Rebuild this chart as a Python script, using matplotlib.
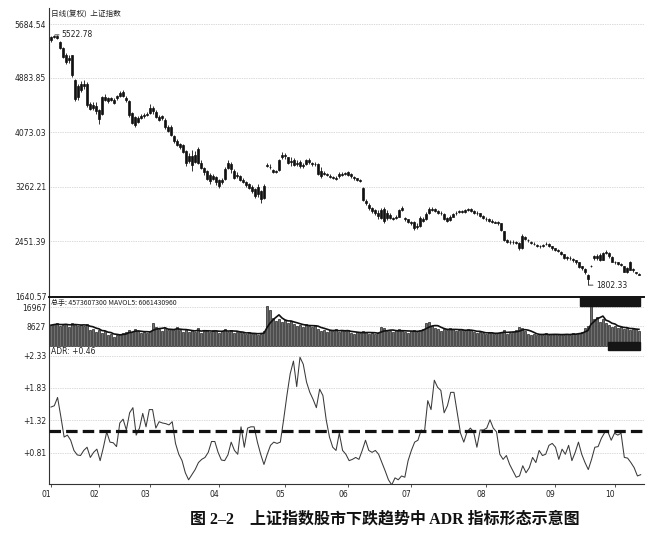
import numpy as np
import pandas as pd
import matplotlib
matplotlib.use('Agg')
import matplotlib.pyplot as plt
from matplotlib.patches import Rectangle

# ---------------- data ----------------
open_ = [5440, 5490, 5510, 5420, 5330, 5220, 5150, 5220, 4850, 4600,
         4700, 4800, 4800, 4500, 4440, 4470, 4400, 4340, 4560, 4580,
         4560, 4560, 4580, 4620, 4620, 4590, 4540, 4360, 4300, 4230,
         4290, 4310, 4330, 4360, 4430, 4380, 4300, 4280, 4260, 4160,
         4160, 4020, 3950, 3900, 3880, 3800, 3650, 3720, 3640, 3820,
         3620, 3540, 3500, 3440, 3380, 3410, 3360, 3330, 3380, 3550,
         3600, 3500, 3420, 3420, 3370, 3340, 3300, 3260, 3230, 3160,
         3200, 3100, 3580, 3560, 3510, 3490, 3520, 3700, 3740, 3700,
         3630, 3660, 3600, 3640, 3570, 3610, 3660, 3620, 3600, 3600,
         3500, 3460, 3450, 3430, 3410, 3400, 3420, 3440, 3460, 3480,
         3450, 3410, 3390, 3370, 3250, 3060, 3000, 2950, 2920, 2880,
         2800, 2940, 2800, 2850, 2800, 2800, 2820, 2920, 2800, 2780,
         2740, 2740, 2660, 2680, 2790, 2790, 2880, 2920, 2930, 2900,
         2880, 2860, 2800, 2770, 2820, 2870, 2890, 2900, 2890, 2920,
         2930, 2900, 2880, 2870, 2830, 2790, 2780, 2760, 2730, 2740,
         2720, 2600, 2470, 2450, 2440, 2450, 2430, 2360, 2520, 2480,
         2440, 2420, 2400, 2390, 2380, 2410, 2420, 2380, 2350, 2330,
         2300, 2260, 2220, 2200, 2190, 2170, 2140, 2080, 2040, 1960,
         2080, 2200, 2240, 2250, 2180, 2280, 2280, 2220, 2150, 2140,
         2120, 2080, 2000, 2030, 2040, 1990, 1970]
close = [5490, 5510, 5480, 5330, 5200, 5120, 5180, 4930, 4570, 4760,
         4790, 4760, 4480, 4420, 4480, 4390, 4270, 4600, 4600, 4540,
         4580, 4510, 4610, 4660, 4680, 4550, 4330, 4220, 4190, 4290,
         4310, 4330, 4350, 4430, 4390, 4300, 4260, 4310, 4150, 4100,
         4040, 3940, 3890, 3860, 3780, 3620, 3720, 3590, 3740, 3620,
         3550, 3480, 3380, 3350, 3420, 3330, 3280, 3370, 3530, 3620,
         3530, 3400, 3440, 3370, 3340, 3290, 3250, 3200, 3130, 3260,
         3080, 3270, 3590, 3560, 3490, 3500, 3660, 3740, 3720, 3620,
         3650, 3590, 3620, 3570, 3590, 3660, 3630, 3600, 3610, 3460,
         3420, 3470, 3440, 3410, 3400, 3380, 3450, 3460, 3470, 3440,
         3420, 3390, 3370, 3350, 3070, 3020, 2950, 2910, 2870, 2830,
         2920, 2760, 2880, 2800, 2790, 2820, 2920, 2950, 2780, 2740,
         2720, 2650, 2680, 2800, 2760, 2860, 2930, 2940, 2910, 2880,
         2870, 2790, 2760, 2820, 2860, 2880, 2910, 2890, 2920, 2940,
         2910, 2880, 2870, 2830, 2800, 2780, 2760, 2740, 2740, 2720,
         2620, 2470, 2450, 2440, 2450, 2430, 2350, 2530, 2490, 2470,
         2430, 2410, 2390, 2380, 2400, 2420, 2390, 2350, 2330, 2310,
         2270, 2210, 2200, 2210, 2170, 2140, 2070, 2050, 1990, 1900,
         2090, 2230, 2200, 2180, 2280, 2290, 2230, 2150, 2140, 2110,
         2100, 2000, 2050, 2140, 2020, 1980, 1960]
high = [5500, 5522.78, 5520, 5430, 5340, 5250, 5220, 5230, 4860, 4800,
        4830, 4850, 4820, 4530, 4520, 4520, 4420, 4620, 4640, 4600,
        4600, 4580, 4630, 4690, 4700, 4610, 4550, 4380, 4310, 4320,
        4340, 4360, 4370, 4490, 4470, 4400, 4330, 4330, 4280, 4180,
        4180, 4040, 3970, 3920, 3900, 3810, 3760, 3810, 3790, 3850,
        3660, 3560, 3510, 3470, 3450, 3430, 3380, 3400, 3560, 3660,
        3640, 3530, 3480, 3440, 3390, 3350, 3320, 3290, 3250, 3300,
        3220, 3300, 3620, 3600, 3530, 3520, 3680, 3780, 3770, 3710,
        3700, 3690, 3660, 3660, 3620, 3680, 3690, 3640, 3630, 3620,
        3560, 3500, 3470, 3450, 3420, 3420, 3480, 3480, 3490, 3500,
        3470, 3430, 3400, 3380, 3260, 3080, 3020, 2970, 2940, 2920,
        2950, 2960, 2920, 2870, 2820, 2840, 2940, 2980, 2820, 2790,
        2760, 2760, 2720, 2830, 2820, 2890, 2960, 2960, 2950, 2920,
        2900, 2870, 2820, 2840, 2880, 2900, 2920, 2920, 2940, 2950,
        2950, 2920, 2900, 2880, 2850, 2810, 2800, 2780, 2760, 2760,
        2730, 2610, 2490, 2470, 2470, 2460, 2440, 2560, 2540, 2490,
        2460, 2440, 2420, 2400, 2420, 2440, 2430, 2390, 2360, 2340,
        2310, 2270, 2230, 2230, 2200, 2180, 2150, 2090, 2050, 1970,
        2100, 2250, 2270, 2280, 2300, 2330, 2290, 2230, 2160, 2150,
        2130, 2090, 2070, 2160, 2060, 2000, 1980]
low = [5420, 5480, 5460, 5310, 5180, 5090, 5110, 4900, 4540, 4560,
       4680, 4720, 4450, 4400, 4410, 4350, 4200, 4330, 4540, 4510,
       4540, 4490, 4560, 4600, 4600, 4530, 4300, 4200, 4150, 4210,
       4270, 4290, 4310, 4340, 4350, 4280, 4240, 4260, 4130, 4080,
       4020, 3920, 3870, 3830, 3760, 3580, 3620, 3500, 3620, 3600,
       3530, 3440, 3360, 3310, 3360, 3290, 3240, 3300, 3360, 3530,
       3470, 3380, 3400, 3350, 3320, 3260, 3230, 3170, 3100, 3110,
       3020, 3080, 3560, 3530, 3470, 3470, 3500, 3680, 3680, 3600,
       3580, 3570, 3580, 3540, 3550, 3590, 3610, 3580, 3580, 3440,
       3400, 3440, 3420, 3390, 3380, 3360, 3400, 3420, 3440, 3420,
       3400, 3370, 3350, 3330, 3050, 3000, 2920, 2880, 2850, 2780,
       2780, 2730, 2770, 2780, 2770, 2780, 2810, 2900, 2750, 2720,
       2690, 2620, 2640, 2660, 2740, 2770, 2860, 2900, 2890, 2860,
       2850, 2770, 2740, 2750, 2810, 2850, 2880, 2880, 2880, 2910,
       2890, 2860, 2850, 2810, 2790, 2760, 2740, 2720, 2720, 2700,
       2600, 2460, 2430, 2420, 2420, 2410, 2330, 2340, 2470, 2450,
       2410, 2400, 2370, 2360, 2370, 2400, 2370, 2330, 2310, 2290,
       2250, 2190, 2180, 2180, 2150, 2120, 2050, 2030, 1970, 1802.33,
       2070, 2180, 2180, 2160, 2170, 2260, 2210, 2140, 2120, 2100,
       2080, 1990, 1980, 2020, 2000, 1970, 1950]
volume = [9000, 9500, 9800, 8800, 9200, 9600, 8400, 9900, 9300, 8600, 9100, 8700, 9400,
          6900, 7400, 6200, 7000, 5600, 6300,
          4600, 5200, 3900, 4800, 5100,
          5600, 6200, 6800, 5900, 7100, 6400, 5400, 6000, 5700, 6600,
          9900, 8000,
          7200, 6400, 7800, 6900, 7500, 6700, 8100, 7000,
          6200, 7300, 5800, 6900, 6100, 7600, 5600, 6500, 6800, 5900,
          7000, 6300, 5700, 6600, 7400, 6000, 6700, 5500, 6200, 5900,
          5400, 4900, 5800, 5100, 5600, 4800, 5300,
          6500,
          17200, 15500,
          12100, 11000, 11800, 10400, 11300, 9900, 10800,
          9700, 8600, 9200, 8100, 9500, 8800, 8300, 9000,
          7300, 6600, 7000, 6200, 6900, 6400, 7200, 6000, 6700, 6300, 6800,
          5600, 5200, 5900, 5400, 6500, 5800, 5300, 5700, 5100, 5500,
          8200, 7600, 6400,
          6300, 5800, 6900, 7200, 6600, 6100, 5700, 6400, 7000, 6200, 6800,
          7400, 9900, 10200, 8800,
          7800, 7100, 6600, 7400, 6900, 7600, 7200, 6500, 7000, 6800, 6300, 7300, 6700,
          5900, 5400, 6100, 5600, 5200, 5800, 5500, 5000, 5700, 6200, 7000, 5300,
          5400, 5900, 6800, 8200, 7900, 6300,
          5000, 4700, 5300, 4600, 5100, 4800, 5400, 4500, 4900, 5200,
          4700, 5000, 4600, 5300, 4800, 5500, 5100, 5700, 6200, 7600,
          8500, 18700,
          11500, 12500, 10400, 11800, 9800,
          9000, 8300, 8700, 7600, 8200, 7200, 7800, 6900, 7400, 7100, 6600]
adr = [1.53, 1.55, 1.68, 1.38, 1.06, 1.09, 1.01, 0.85, 0.78, 0.77, 0.85, 0.90,
       0.74, 0.82, 0.87, 0.69, 0.90, 1.14, 0.98, 0.97, 0.91, 1.28, 1.34, 1.17,
       1.44, 1.52, 1.09, 1.20, 1.43, 1.22, 1.49, 1.49, 1.20, 1.30, 1.28, 1.27,
       1.25, 1.30, 0.96, 0.79, 0.69, 0.50, 0.39, 0.47, 0.55, 0.66, 0.71, 0.74,
       0.82, 0.99, 0.99, 0.82, 0.70, 0.69, 0.78, 0.98, 0.85, 0.79, 1.22, 0.90,
       1.20, 1.22, 1.22, 0.98, 0.79, 0.63, 0.79, 0.93, 0.98, 0.96, 0.98, 1.33,
       1.71, 2.05, 2.25, 1.85, 2.31, 2.20, 1.92, 1.76, 1.65, 1.52, 1.81, 1.71,
       1.33, 1.06, 0.90, 0.85, 1.12, 0.85, 0.79, 0.69, 0.71, 0.74, 0.71, 0.85,
       1.01, 0.85, 0.82, 0.85, 0.79, 0.66, 0.53, 0.39, 0.31, 0.42, 0.39, 0.45,
       0.43, 0.69, 0.85, 0.98, 1.01, 1.17, 1.14, 1.63, 1.49, 1.95, 1.84, 1.79,
       1.44, 1.55, 1.76, 1.76, 1.44, 1.12, 0.98, 1.14, 1.20, 1.14, 0.90, 1.17,
       1.17, 1.20, 1.33, 1.20, 1.14, 0.79, 0.71, 0.77, 0.63, 0.53, 0.43, 0.45,
       0.61, 0.50, 0.58, 0.74, 0.66, 0.85, 0.77, 0.79, 0.93, 0.96, 0.90, 0.71,
       0.87, 0.79, 0.93, 0.69, 0.82, 0.98, 0.79, 0.66, 0.55, 0.71, 0.90, 0.91,
       1.04, 1.13, 1.14, 1.01, 1.12, 1.09, 1.12, 0.74, 0.73, 0.66, 0.58, 0.45,
       0.47]
adr_ref = 1.15
month_start_idx = [0, 16, 33, 56, 78, 99, 120, 145, 168, 188]
month_labels = ['01', '02', '03', '04', '05', '06', '07', '08', '09', '10']
price_ticks = [1640.57, 2451.39, 3262.21, 4073.03, 4883.85, 5684.54]
vol_ticks = [8627, 16967]
adr_ticks = [0.81, 1.32, 1.83, 2.33]
price_title = '日线(复权)  上证指数'
vol_title = '总手: 4573607300 MAVOL5: 6061430960'
adr_title = 'ADR: +0.46'
caption = '图 2–2　上证指数股市下跌趋势中 ADR 指标形态示意图'

N = len(close)
assert len(open_) == N and len(high) == N and len(low) == N and len(volume) == N

# ---------------- layout ----------------
W, H = 653, 541
fig = plt.figure(figsize=(W / 100, H / 100), dpi=100)
fig.patch.set_facecolor('white')

def rect(top, bot, left=49, right=644):
    return [left / W, 1 - bot / H, (right - left) / W, (bot - top) / H]

ax1 = fig.add_axes(rect(8, 296))
ax2 = fig.add_axes(rect(297, 347))
ax3 = fig.add_axes(rect(348, 484))

XMIN, XMAX = -0.67, N + 0.7
CJK = ['Noto Sans CJK SC', 'DejaVu Sans']
tick_kw = dict(labelsize=5.5, labelcolor='#222', length=0, pad=2)
grid_kw = dict(color='#b5b5b5', lw=0.5, ls=(0, (1, 1.5)), zorder=0)

for ax in (ax1, ax2, ax3):
    ax.set_xlim(XMIN, XMAX)
    for s in ('top', 'right', 'bottom'):
        ax.spines[s].set_visible(False)
    ax.spines['left'].set_color('#333')
    ax.spines['left'].set_linewidth(0.8)
    ax.set_facecolor('none')

x = np.arange(N)
o = np.array(open_, float)
c = np.array(close, float)
hi = np.array(high, float)
lo = np.array(low, float)

# ---- price panel ----
ax1.set_ylim(1640.57, 1640.57 + 288 * 14.868)
for t in price_ticks[1:]:
    ax1.axhline(t, **grid_kw)
ax1.vlines(x, lo, hi, color='#111', lw=0.6, zorder=2)
ax1.bar(x, np.abs(c - o), bottom=np.minimum(o, c), width=0.62,
        color='#111', edgecolor='#111', lw=0.5, zorder=3)
ax1.set_yticks(price_ticks)
ax1.set_yticklabels([f'{t:.2f}' for t in price_ticks])
ax1.set_xticks([])
ax1.tick_params(axis='y', **tick_kw)
ax1.text(0.004, 1 - 6 / 288, price_title, transform=ax1.transAxes,
         fontsize=5.5, family=CJK, color='#222', va='center', ha='left')
imax = int(np.argmax(hi))
imin = int(np.argmin(lo))
ax1.annotate(f'{hi[imax]:.2f}', xy=(imax + 0.3, hi[imax]), xytext=(5, 0),
             textcoords='offset points', fontsize=5.5, color='#222',
             va='center', ha='left',
             arrowprops=dict(arrowstyle='-', lw=0.6, color='#222',
                             shrinkA=0, shrinkB=0))
ax1.annotate(f'{lo[imin]:.2f}', xy=(imin + 0.3, lo[imin]), xytext=(5, 0),
             textcoords='offset points', fontsize=5.5, color='#222',
             va='center', ha='left',
             arrowprops=dict(arrowstyle='-', lw=0.6, color='#222',
                             shrinkA=0, shrinkB=0))

# ---- volume panel ----
vol = np.array(volume, float)
mavol = pd.Series(vol).rolling(5, min_periods=1).mean().values
ax2.set_ylim(-588, 21361)
for t in vol_ticks:
    ax2.axhline(t, **grid_kw)
ax2.bar(x, vol, width=0.62, color='#707070', edgecolor='#111', lw=0.45, zorder=2)
ax2.plot(x, mavol, color='#111', lw=1.2, zorder=3)
ax2.spines['top'].set_visible(True)
ax2.spines['top'].set_linewidth(1.4)
ax2.spines['top'].set_color('#111')
ax2.set_yticks(vol_ticks)
ax2.set_yticklabels([str(t) for t in vol_ticks])
ax2.set_xticks([])
ax2.tick_params(axis='y', **tick_kw)
ax2.text(0.004, 1 - 6 / 50, vol_title, transform=ax2.transAxes,
         fontsize=5, family=CJK, color='#222', va='center', ha='left', zorder=5)

# ---- ADR panel ----
ax3.set_ylim(0.324, 2.455)
for t in adr_ticks:
    ax3.axhline(t, **grid_kw)
adr_x = np.linspace(0, N - 0.4, len(adr))
ax3.plot(adr_x, adr, color='#3a3a3a', lw=0.75, zorder=2)
ax3.axhline(adr_ref, color='#111', lw=2.3, ls=(0, (3.6, 1.6)), zorder=3)
ax3.set_yticks(adr_ticks)
ax3.set_yticklabels([f'+{t:.2f}' for t in adr_ticks])
ax3.tick_params(axis='y', **tick_kw)
ax3.spines['bottom'].set_visible(True)
ax3.spines['bottom'].set_color('#333')
ax3.spines['bottom'].set_linewidth(0.8)
ax3.set_xticks(month_start_idx)
ax3.set_xticklabels(month_labels, ha='right')
ax3.tick_params(axis='x', labelsize=5.5, labelcolor='#222', length=2.5,
                width=0.6, color='#333', pad=1.5, direction='out')
ax3.text(0.004, 1 - 4 / 136, adr_title, transform=ax3.transAxes,
         fontsize=5.5, color='#222', va='center', ha='left')

# software info boxes (dark overlays at right edge)
fig.patches.append(Rectangle((580 / W, 1 - 306 / H), 60 / W, 9 / H,
                             transform=fig.transFigure, color='#151515', zorder=10))
fig.patches.append(Rectangle((608 / W, 1 - 350 / H), 32 / W, 8 / H,
                             transform=fig.transFigure, color='#151515', zorder=10))

# caption
fig.text(385 / W, 1 - 520 / H, caption, ha='center', va='center',
         fontsize=11.5, fontweight='bold',
         family=['Liberation Serif', 'Noto Sans CJK SC'], color='#111')

fig.savefig('out.png', dpi=100)
